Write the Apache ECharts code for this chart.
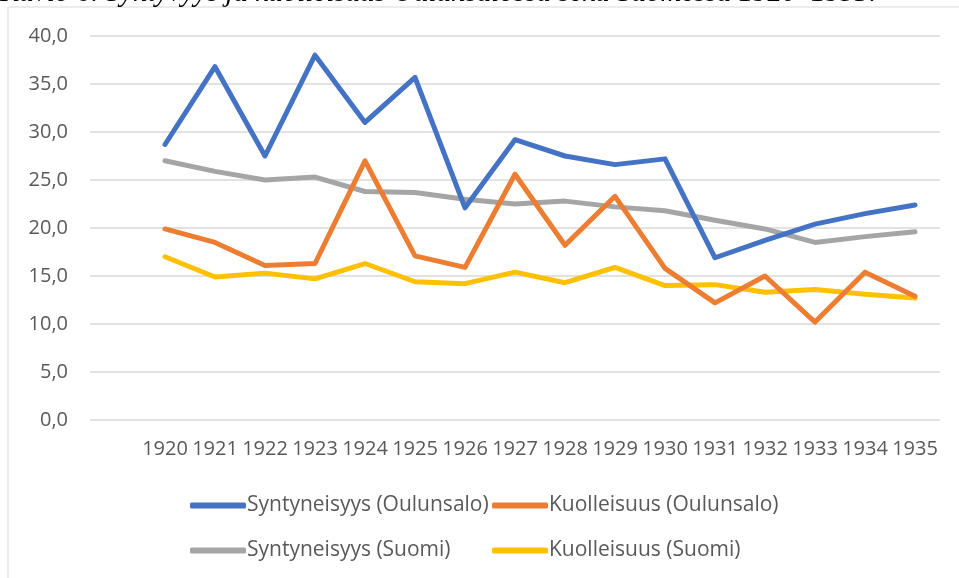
<!DOCTYPE html>
<html>
<head>
<meta charset="utf-8">
<script src="https://cdn.jsdelivr.net/npm/echarts@6/dist/echarts.min.js"></script>
<style>
  html, body { margin: 0; padding: 0; background: #fff; }
  #chart { width: 959px; height: 578px; }
</style>
</head>
<body>
<div id="chart"></div>
<script>
// vuodet ja arvot (luettu kuvasta)
var years = ['1920','1921','1922','1923','1924','1925','1926','1927','1928','1929','1930','1931','1932','1933','1934','1935'];
var syntOulunsalo = [28.7, 36.8, 27.5, 38.0, 31.0, 35.7, 22.1, 29.2, 27.5, 26.6, 27.2, 16.9, 18.7, 20.4, 21.5, 22.4];
var kuolOulunsalo = [19.9, 18.5, 16.1, 16.3, 27.0, 17.1, 15.9, 25.6, 18.2, 23.3, 15.8, 12.2, 15.0, 10.2, 15.4, 12.9];
var syntSuomi = [27.0, 25.9, 25.0, 25.3, 23.8, 23.7, 23.0, 22.5, 22.8, 22.2, 21.8, 20.8, 19.9, 18.5, 19.1, 19.6];
var kuolSuomi = [17.0, 14.9, 15.3, 14.7, 16.3, 14.4, 14.2, 15.4, 14.3, 15.9, 14.0, 14.1, 13.3, 13.6, 13.1, 12.7];
var yTicks = [0, 5, 10, 15, 20, 25, 30, 35, 40];

var seriesNames = ['Syntyneisyys (Oulunsalo)', 'Kuolleisuus (Oulunsalo)', 'Syntyneisyys (Suomi)', 'Kuolleisuus (Suomi)'];
var colors = ['#4472C4', '#ED7D31', '#A5A5A5', '#FFC000'];
var seriesData = [syntOulunsalo, kuolOulunsalo, syntSuomi, kuolSuomi];

(function () {
    var myChart = echarts.init(document.getElementById('chart'));
    var font = '"Open Sans", sans-serif';

    // excelin kaaviossa on tyhjä ensimmäinen luokka
    var cats = [''].concat(years);

    var series = seriesData.map(function (vals, i) {
        return {
            name: seriesNames[i],
            type: 'line',
            data: [null].concat(vals),
            symbol: 'none',
            smooth: false,
            lineStyle: { width: 5, color: colors[i], cap: 'round', join: 'round' },
            itemStyle: { color: colors[i] },
            z: 10 - i
        };
    });

    // neljä erillistä selitettä, jotta sarakkeet asettuvat kuten alkuperäisessä
    var legendPos = [[185, 490], [487, 490], [185, 535], [487, 535]];
    var legends = seriesNames.map(function (n, i) {
        return {
            data: [n],
            left: legendPos[i][0],
            top: legendPos[i][1],
            icon: 'roundRect',
            itemWidth: 56,
            itemHeight: 6,
            selectedMode: false,
            textStyle: { color: '#595959', fontFamily: font, fontSize: 21, padding: [0, 0, 0, -4] }
        };
    });

    var option = {
        animation: false,
        backgroundColor: '#fff',
        graphic: [
            {
                type: 'rect',
                shape: { x: 8, y: 7, width: 1000, height: 620 },
                style: { fill: '#fff', stroke: '#D9D9D9', lineWidth: 1 },
                z: -10
            },
            {
                type: 'text',
                x: 0,
                y: 7.5,
                style: {
                    text: 'Kuvio 6. Syntyvyys ja kuolleisuus Oulunsalossa sekä Suomessa 1920–1935.',
                    font: 'italic 29px "Liberation Serif", serif',
                    fill: '#000',
                    verticalAlign: 'bottom'
                }
            }
        ],
        legend: legends,
        grid: { left: 90, right: 19, top: 36, bottom: 158, containLabel: false },
        xAxis: {
            type: 'category',
            data: cats,
            boundaryGap: true,
            axisLine: { show: false },
            axisTick: { show: false },
            axisLabel: { color: '#595959', fontFamily: font, fontSize: 20, margin: 19, interval: 0 }
        },
        yAxis: {
            type: 'value',
            min: yTicks[0],
            max: yTicks[yTicks.length - 1],
            interval: 5,
            axisLine: { show: false },
            axisTick: { show: false },
            splitLine: { lineStyle: { color: '#D9D9D9', width: 1.5 } },
            axisLabel: {
                color: '#595959', fontFamily: font, fontSize: 20, margin: 22,
                formatter: function (v) { return v.toFixed(1).replace('.', ','); }
            }
        },
        series: series
    };
    myChart.setOption(option);
})();
</script>
</body>
</html>
